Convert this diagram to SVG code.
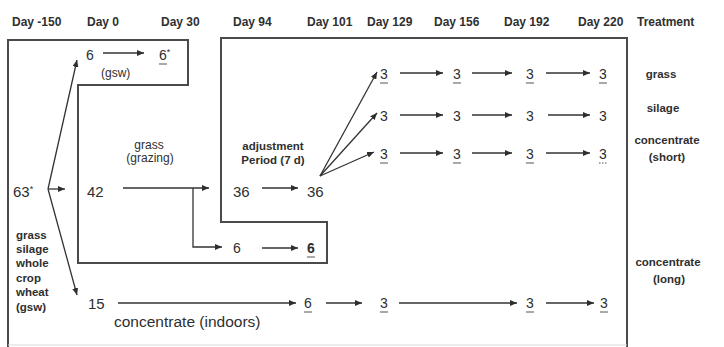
<svg xmlns="http://www.w3.org/2000/svg" width="724" height="347" viewBox="0 0 724 347">
<defs>
<marker id="ah" markerWidth="8" markerHeight="6" refX="7" refY="3" orient="auto" markerUnits="userSpaceOnUse">
<path d="M0,0 L7,3 L0,6 z" fill="#2e2e2e"/>
</marker>
<style>
text{font-family:"Liberation Sans",Arial,sans-serif;fill:#2f2f2f}
.day{font-size:12px;font-weight:bold}
.trt{font-size:11.5px;font-weight:bold;text-anchor:middle}
.num{font-size:14px}
.big{font-size:15px}
.lab{font-size:12px}
.ind{font-size:15.5px}
.labb{font-size:11.5px;font-weight:bold}
.box{fill:none;stroke:#4a4a4a;stroke-width:2}
.arr{fill:none;stroke:#333;stroke-width:1.3;marker-end:url(#ah)}
.ln{fill:none;stroke:#333;stroke-width:1.3}
.ul{stroke:#555;stroke-width:1}
</style>
</defs>
<rect width="724" height="347" fill="#fff"/>

<g id="header">
<text class="day" x="12" y="26">Day -150</text>
<text class="day" x="87" y="26">Day 0</text>
<text class="day" x="161" y="26">Day 30</text>
<text class="day" x="233" y="26">Day 94</text>
<text class="day" x="307" y="26">Day 101</text>
<text class="day" x="367" y="26">Day 129</text>
<text class="day" x="434" y="26">Day 156</text>
<text class="day" x="504" y="26">Day 192</text>
<text class="day" x="578" y="26">Day 220</text>
<text class="day" x="637" y="26">Treatment</text>
</g>

<g id="frame">
<path class="box" d="M8,347 L8,40 L188,40 L188,85 L78,85 L78,263 L327,263 L327,222 L221,222 L221,38 L627,38 L627,347"/>
<line x1="8" y1="345" x2="627" y2="345" stroke="#d8d8d8" stroke-width="1"/>
</g>

<g id="treatments">
<text class="trt" x="661" y="78">grass</text>
<text class="trt" x="663" y="112">silage</text>
<text class="trt" x="667" y="144">concentrate</text>
<text class="trt" x="667" y="161">(short)</text>
<text class="trt" x="668" y="266">concentrate</text>
<text class="trt" x="669" y="283">(long)</text>
</g>

<g id="node-start">
<text class="big" x="13" y="197">63<tspan font-size="9" dy="-5">*</tspan></text>
<text class="labb" x="16" y="239">grass</text>
<text class="labb" x="16" y="253">silage</text>
<text class="labb" x="16" y="267">whole</text>
<text class="labb" x="16" y="282">crop</text>
<text class="labb" x="16" y="296">wheat</text>
<text class="labb" x="16" y="311">(gsw)</text>
</g>

<g id="node-gsw">
<text class="num" x="86" y="60">6</text>
<text class="lab" x="101" y="77">(gsw)</text>
<text class="num" x="159" y="60">6<tspan font-size="9" dy="-5">*</tspan></text>
<line class="ul" x1="159" y1="64" x2="167" y2="64"/>
</g>

<g id="node-grazing">
<text class="big" x="87" y="197">42</text>
<text class="lab" x="149" y="149" text-anchor="middle">grass</text>
<text class="lab" x="150" y="162" text-anchor="middle">(grazing)</text>
</g>

<g id="node-adjust">
<text class="labb" x="273" y="150" text-anchor="middle">adjustment</text>
<text class="labb" x="273" y="164" text-anchor="middle">Period (7 d)</text>
<text class="big" x="233" y="197">36</text>
<text class="big" x="307" y="197">36</text>
</g>

<g id="node-inner6">
<text class="num" x="233" y="253">6</text>
<text class="num" x="307" y="253" font-weight="bold">6</text>
<line class="ul" x1="307" y1="257" x2="315" y2="257"/>
</g>

<g id="row-grass">
<text class="num" x="380" y="79">3</text>
<text class="num" x="453" y="79">3</text>
<text class="num" x="526" y="79">3</text>
<text class="num" x="599" y="79">3</text>
<line class="ul" x1="380" y1="83" x2="388" y2="83"/>
<line class="ul" x1="453" y1="83" x2="461" y2="83"/>
<line class="ul" x1="526" y1="83" x2="534" y2="83"/>
<line class="ul" x1="599" y1="83" x2="607" y2="83"/>
</g>

<g id="row-silage">
<text class="num" x="380" y="121">3</text>
<text class="num" x="453" y="121">3</text>
<text class="num" x="526" y="121">3</text>
<text class="num" x="599" y="121">3</text>
</g>

<g id="row-short">
<text class="num" x="380" y="159">3</text>
<text class="num" x="453" y="159">3</text>
<text class="num" x="526" y="159">3</text>
<text class="num" x="599" y="159">3</text>
<line class="ul" x1="380" y1="163" x2="388" y2="163"/>
<line class="ul" x1="453" y1="163" x2="461" y2="163"/>
<line class="ul" x1="526" y1="163" x2="534" y2="163"/>
<line class="ul" x1="599" y1="163" x2="607" y2="163" stroke-dasharray="1.5,1.5"/>
</g>

<g id="row-long">
<text class="big" x="88" y="309">15</text>
<text class="ind" x="114" y="327">concentrate (indoors)</text>
<text class="num" x="304" y="308">6</text>
<text class="num" x="380" y="308">3</text>
<text class="num" x="526" y="308">3</text>
<text class="num" x="600" y="308">3</text>
<line class="ul" x1="304" y1="312" x2="312" y2="312"/>
<line class="ul" x1="380" y1="312" x2="388" y2="312"/>
<line class="ul" x1="526" y1="312" x2="534" y2="312"/>
<line class="ul" x1="600" y1="312" x2="608" y2="312"/>
</g>

<g id="connectors">
<line class="ln" x1="48" y1="189" x2="77" y2="60" style="marker-end:url(#ah)"/>
<line class="ln" x1="48" y1="189" x2="77" y2="295" style="marker-end:url(#ah)"/>
<line class="arr" x1="48" y1="189" x2="65" y2="189"/>
<line class="arr" x1="103" y1="53" x2="144" y2="53"/>
<line class="arr" x1="123" y1="188" x2="209" y2="188"/>
<polyline class="arr" points="193,188 193,247 222,247"/>
<line class="arr" x1="262" y1="188" x2="298" y2="188"/>
<line class="arr" x1="262" y1="248" x2="298" y2="248"/>
<line class="arr" x1="320" y1="176" x2="377" y2="72"/>
<line class="arr" x1="320" y1="176" x2="377" y2="113"/>
<line class="arr" x1="320" y1="176" x2="374" y2="152"/>
<line class="arr" x1="400" y1="73" x2="443" y2="73"/>
<line class="arr" x1="472" y1="73" x2="512" y2="73"/>
<line class="arr" x1="546" y1="73" x2="590" y2="73"/>
<line class="arr" x1="400" y1="115" x2="443" y2="115"/>
<line class="arr" x1="472" y1="115" x2="512" y2="115"/>
<line class="arr" x1="548" y1="115" x2="590" y2="115"/>
<line class="arr" x1="400" y1="153" x2="443" y2="153"/>
<line class="arr" x1="472" y1="153" x2="512" y2="153"/>
<line class="arr" x1="546" y1="153" x2="590" y2="153"/>
<line class="arr" x1="118" y1="303" x2="296" y2="303"/>
<line class="arr" x1="326" y1="303" x2="362" y2="303"/>
<line class="arr" x1="399" y1="303" x2="517" y2="303"/>
<line class="arr" x1="546" y1="303" x2="594" y2="303"/>
</g>
</svg>
